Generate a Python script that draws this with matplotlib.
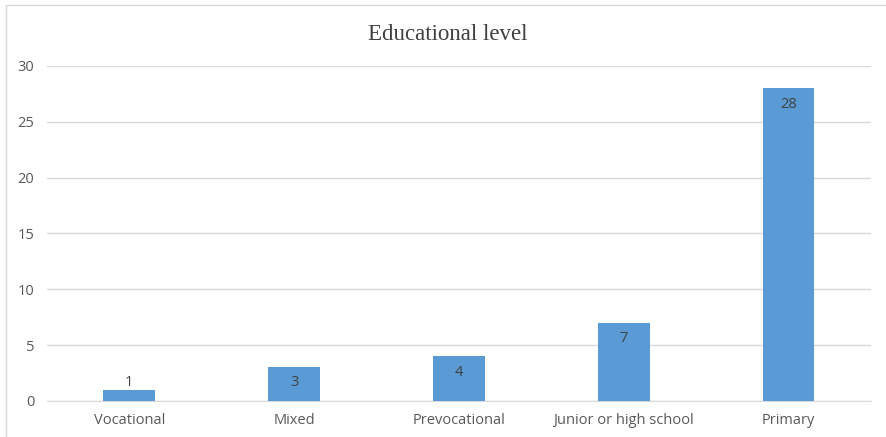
import matplotlib.pyplot as plt
from matplotlib.patches import Rectangle

# data
categories = ["Vocational", "Mixed", "Prevocational", "Junior or high school", "Primary"]
values = [1, 3, 4, 7, 28]

fig = plt.figure(figsize=(8.86, 4.37), dpi=100)
ax = fig.add_axes([0.053, 0.0824, 0.930, 0.7666])

# light frame round the chart area
fig.patches.append(Rectangle((6 / 886, -0.5), 1.5, 1.5 - 5 / 437,
                             transform=fig.transFigure, fill=False,
                             edgecolor="#d9d9d9", linewidth=1))

x = range(len(categories))
bars = ax.bar(x, values, width=0.315, color="#5b9bd5", zorder=3)

ax.set_xlim(-0.5, len(categories) - 0.5)
ax.set_ylim(0, 30)

# labels inside the bar end, kept above the axis like Excel does
px = 30 / (ax.get_position().height * fig.get_figheight() * fig.dpi)
for b, v in zip(bars, values):
    ly = max(v - 16 * px, 18 * px)
    ax.text(b.get_x() + b.get_width() / 2, ly, str(v), ha="center", va="center",
            fontsize=10.5, color="#404040", family="Open Sans", zorder=4)

ax.set_yticks(range(0, 31, 5))
ax.set_xticks(list(x))
ax.set_xticklabels(categories)
ax.yaxis.grid(True, color="#d9d9d9", linewidth=1, zorder=0)
for s in ["top", "right", "left"]:
    ax.spines[s].set_visible(False)
ax.spines["bottom"].set_color("#d9d9d9")
ax.tick_params(length=0, labelsize=10.5, colors="#595959")
ax.tick_params(axis="x", pad=9)
ax.tick_params(axis="y", pad=9)
for lab in ax.get_xticklabels() + ax.get_yticklabels():
    lab.set_family("Open Sans")

fig.text(0.505, 0.922, "Educational level", ha="center", va="center",
         fontsize=16.5, family="Liberation Serif", color="#404040")

fig.savefig("out.png", dpi=100)
